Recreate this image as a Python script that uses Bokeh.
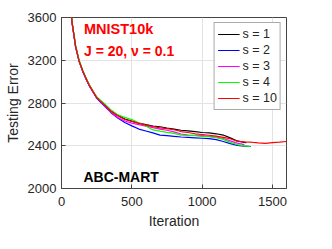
from bokeh.plotting import figure
from bokeh.models import Label, FixedTicker, Range1d
from bokeh.embed import file_html
from bokeh.resources import INLINE

# ---- data ----
iter_s1 = [50, 75, 100, 125, 150, 175, 200, 225, 250, 275, 300, 350, 400, 450, 500, 550, 600, 650, 700, 750,
           800, 850, 900, 950, 1000, 1050, 1100, 1150, 1200, 1250, 1300, 1315]
err_s1 = [3880, 3555, 3335, 3195, 3105, 3030, 2960, 2905, 2852, 2822, 2790, 2728, 2684, 2650, 2630, 2612, 2597, 2585, 2578, 2566,
          2556, 2545, 2540, 2532, 2524, 2520, 2512, 2500, 2474, 2445, 2432, 2428]

iter_s2 = [50, 75, 100, 125, 150, 175, 200, 225, 250, 275, 300, 350, 400, 450, 500, 550, 600, 650, 700, 750,
           800, 850, 900, 950, 1000, 1050, 1100, 1150, 1200, 1250, 1300, 1345]
err_s2 = [3870, 3550, 3325, 3190, 3098, 3022, 2955, 2900, 2846, 2812, 2778, 2712, 2660, 2618, 2586, 2556, 2538, 2520, 2500, 2494,
          2488, 2482, 2478, 2474, 2470, 2466, 2458, 2440, 2420, 2404, 2397, 2393]

iter_s3 = [50, 75, 100, 125, 150, 175, 200, 225, 250, 275, 300, 350, 400, 450, 500, 550, 600, 650, 700, 750,
           800, 850, 900, 950, 1000, 1050, 1100, 1150, 1200, 1250, 1300]
err_s3 = [3875, 3552, 3330, 3192, 3100, 3025, 2958, 2902, 2850, 2815, 2784, 2715, 2665, 2632, 2612, 2598, 2584, 2570, 2556, 2545,
          2530, 2510, 2500, 2498, 2494, 2488, 2480, 2468, 2446, 2425, 2410]

iter_s4 = [50, 75, 100, 125, 150, 175, 200, 225, 250, 275, 300, 350, 400, 450, 500, 550, 600, 650, 700, 750,
           800, 850, 900, 950, 1000, 1050, 1100, 1150, 1200, 1250, 1300, 1340]
err_s4 = [3885, 3560, 3340, 3200, 3110, 3035, 2965, 2912, 2860, 2828, 2800, 2738, 2690, 2665, 2645, 2615, 2585, 2548, 2536, 2525,
          2516, 2500, 2498, 2494, 2488, 2484, 2476, 2460, 2432, 2410, 2398, 2393]

iter_s10 = [50, 75, 100, 125, 150, 175, 200, 225, 250, 275, 300, 350, 400, 450, 500, 550, 600, 650, 700, 750,
            800, 850, 900, 950, 1000, 1050, 1100, 1150, 1200, 1250, 1300, 1350, 1400, 1450, 1500, 1550, 1600]
err_s10 = [3880, 3557, 3332, 3194, 3104, 3028, 2960, 2906, 2852, 2820, 2790, 2726, 2680, 2646, 2628, 2610, 2593, 2580, 2568, 2560,
           2550, 2533, 2524, 2512, 2505, 2498, 2490, 2478, 2466, 2442, 2436, 2433, 2426, 2422, 2430, 2434, 2440]

series_labels = ["s = 1", "s = 2", "s = 3", "s = 4", "s = 10"]
series_colors = ["#000000", "#0000ff", "#ff00ff", "#00ff00", "#ff0000"]
x_ticks = [0, 500, 1000, 1500]
y_ticks = [2000, 2400, 2800, 3200, 3600]

FONT = "Liberation Sans"
AXC = "#262626"

p = figure(width=316, height=233, output_backend="svg", toolbar_location=None,
           x_range=Range1d(0, 1600), y_range=Range1d(2000, 3600),
           min_border_left=61, min_border_right=30, min_border_top=17, min_border_bottom=45)
p.background_fill_color = "white"
p.border_fill_color = "white"
p.outline_line_color = "#444444"
p.outline_line_width = 1

xs = [iter_s1, iter_s2, iter_s3, iter_s4, iter_s10]
ys = [err_s1, err_s2, err_s3, err_s4, err_s10]
for x, y, c, lab in zip(xs, ys, series_colors, series_labels):
    p.line(x, y, line_color=c, line_width=1.2, legend_label=lab)

for ax in (p.xaxis[0], p.yaxis[0]):
    ax.major_label_text_font = FONT
    ax.major_label_text_font_size = "13px"
    ax.major_label_text_color = AXC
    ax.axis_label_text_font = FONT
    ax.axis_label_text_font_size = "14px"
    ax.axis_label_text_font_style = "normal"
    ax.axis_label_text_color = AXC
    ax.axis_line_color = "#444444"
    ax.major_tick_in = 4
    ax.major_tick_out = 0
    ax.minor_tick_in = 0
    ax.minor_tick_out = 0
    ax.major_tick_line_color = "#444444"

p.xaxis[0].ticker = FixedTicker(ticks=x_ticks)
p.yaxis[0].ticker = FixedTicker(ticks=y_ticks)
p.xaxis[0].axis_label = "Iteration"
p.yaxis[0].axis_label = "Testing Error"
p.xaxis[0].major_label_standoff = 8
p.xaxis[0].axis_label_standoff = 4
p.yaxis[0].major_label_standoff = 5
p.yaxis[0].axis_label_standoff = 4

p.xgrid.ticker = FixedTicker(ticks=x_ticks)
p.ygrid.ticker = FixedTicker(ticks=y_ticks)
p.xgrid.grid_line_color = "#e3e3e3"
p.ygrid.grid_line_color = "#e3e3e3"

# annotations
p.add_layout(Label(x=160, y=3493, text="MNIST10k", text_color="#ff0000", text_font=FONT,
                   text_font_size="14.5px", text_font_style="bold", text_baseline="middle"))
p.add_layout(Label(x=160, y=3282, text="J = 20, \u03bd = 0.1", text_color="#ff0000", text_font=FONT,
                   text_font_size="14px", text_font_style="bold", text_baseline="middle"))
p.add_layout(Label(x=156, y=2112, text="ABC-MART", text_color="#000000", text_font=FONT,
                   text_font_size="14px", text_font_style="bold", text_baseline="middle"))

lg = p.legend[0]
lg.location = "top_right"
lg.margin = 5
lg.padding = 3
lg.spacing = 0
lg.glyph_width = 22
lg.glyph_height = 16
lg.label_height = 16
lg.label_standoff = 3
lg.label_text_font = FONT
lg.label_text_font_size = "12.5px"
lg.label_text_color = AXC
lg.border_line_color = "#555555"
lg.border_line_width = 1
lg.background_fill_color = "white"
lg.background_fill_alpha = 1.0

open("out.html", "w").write(file_html(p, INLINE))
